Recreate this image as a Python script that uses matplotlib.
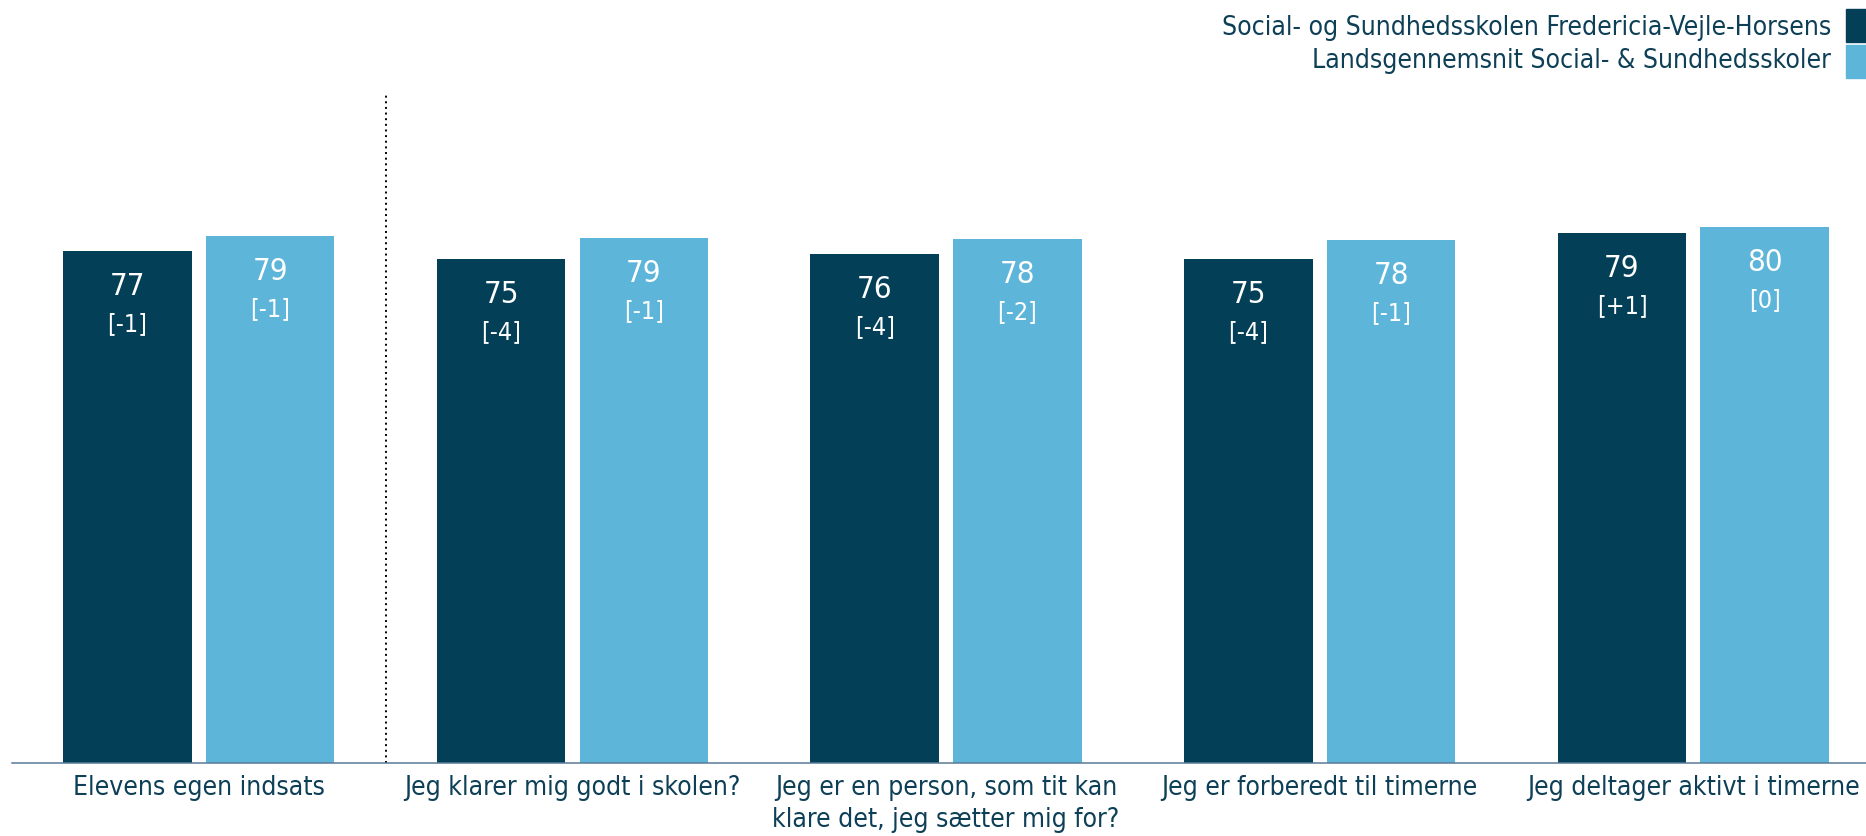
import numpy as np
import matplotlib.pyplot as plt
from matplotlib.patches import Rectangle

# data
categories = [
    "Elevens egen indsats",
    "Jeg klarer mig godt i skolen?",
    "Jeg er en person, som tit kan\nklare det, jeg sætter mig for?",
    "Jeg er forberedt til timerne",
    "Jeg deltager aktivt i timerne",
]
series_names = [
    "Social- og Sundhedsskolen Fredericia-Vejle-Horsens",
    "Landsgennemsnit Social- & Sundhedsskoler",
]
school = [76.4, 75.2, 76.0, 75.2, 79.1]
national = [78.7, 78.4, 78.2, 78.1, 80.0]
school_lbl = [77, 75, 76, 75, 79]
national_lbl = [79, 79, 78, 78, 80]
school_chg = ["[-1]", "[-4]", "[-4]", "[-4]", "[+1]"]
national_chg = ["[-1]", "[-1]", "[-2]", "[-1]", "[0]"]

dark = "#043f58"
light = "#5eb5da"
txt = "#0d3f56"

plt.rcParams["font.family"] = ["DejaVu Sans"]
plt.rcParams["font.stretch"] = "condensed"

W, H = 1866, 837
fig = plt.figure(figsize=(W / 100, H / 100), dpi=100)
ax = fig.add_axes([12 / W, 1 - 764 / H, (W - 12) / W, (764 - 94) / H])

x = np.arange(len(categories))
bw = 0.344
off = 0.191
b1 = ax.bar(x - off, school, bw, color=dark)
b2 = ax.bar(x + off, national, bw, color=light)

for bars, vals, chg in [(b1, school_lbl, school_chg), (b2, national_lbl, national_chg)]:
    for b, v, c in zip(bars, vals, chg):
        cx = b.get_x() + b.get_width() / 2
        top = b.get_height()
        ax.annotate(str(v), (cx, top), xytext=(0, -43), textcoords="offset pixels",
                    ha="center", va="baseline", color="white", fontsize=22.5)
        ax.annotate(c, (cx, top), xytext=(0, -79), textcoords="offset pixels",
                    ha="center", va="baseline", color="white", fontsize=18)

ax.axvline(0.5, color="black", lw=1.4, linestyle=(0, (1, 1.9)))

ax.set_xlim(-0.5, 4.462)
ax.set_ylim(0, 100)
ax.set_xticks(x)
ax.set_xticklabels(categories, fontsize=19, color=txt, linespacing=1.3)
ax.tick_params(axis="x", length=0, pad=8)
ax.set_yticks([])
for s in ["top", "left", "right"]:
    ax.spines[s].set_visible(False)
ax.spines["bottom"].set_color("#5a7a96")
ax.spines["bottom"].set_linewidth(1.1)

# legend at top right, text left of the colour squares
for i, (name, col) in enumerate(zip(series_names, [dark, light])):
    fig.text(1831 / W, 1 - (35 + 33 * i) / H, name, ha="right", va="baseline",
             fontsize=19, color=txt)
    fig.add_artist(Rectangle((1846 / W, 1 - (43 + 36 * i) / H), 20 / W, 33 / H,
                             transform=fig.transFigure, color=col))

fig.savefig("out.png", dpi=100)
